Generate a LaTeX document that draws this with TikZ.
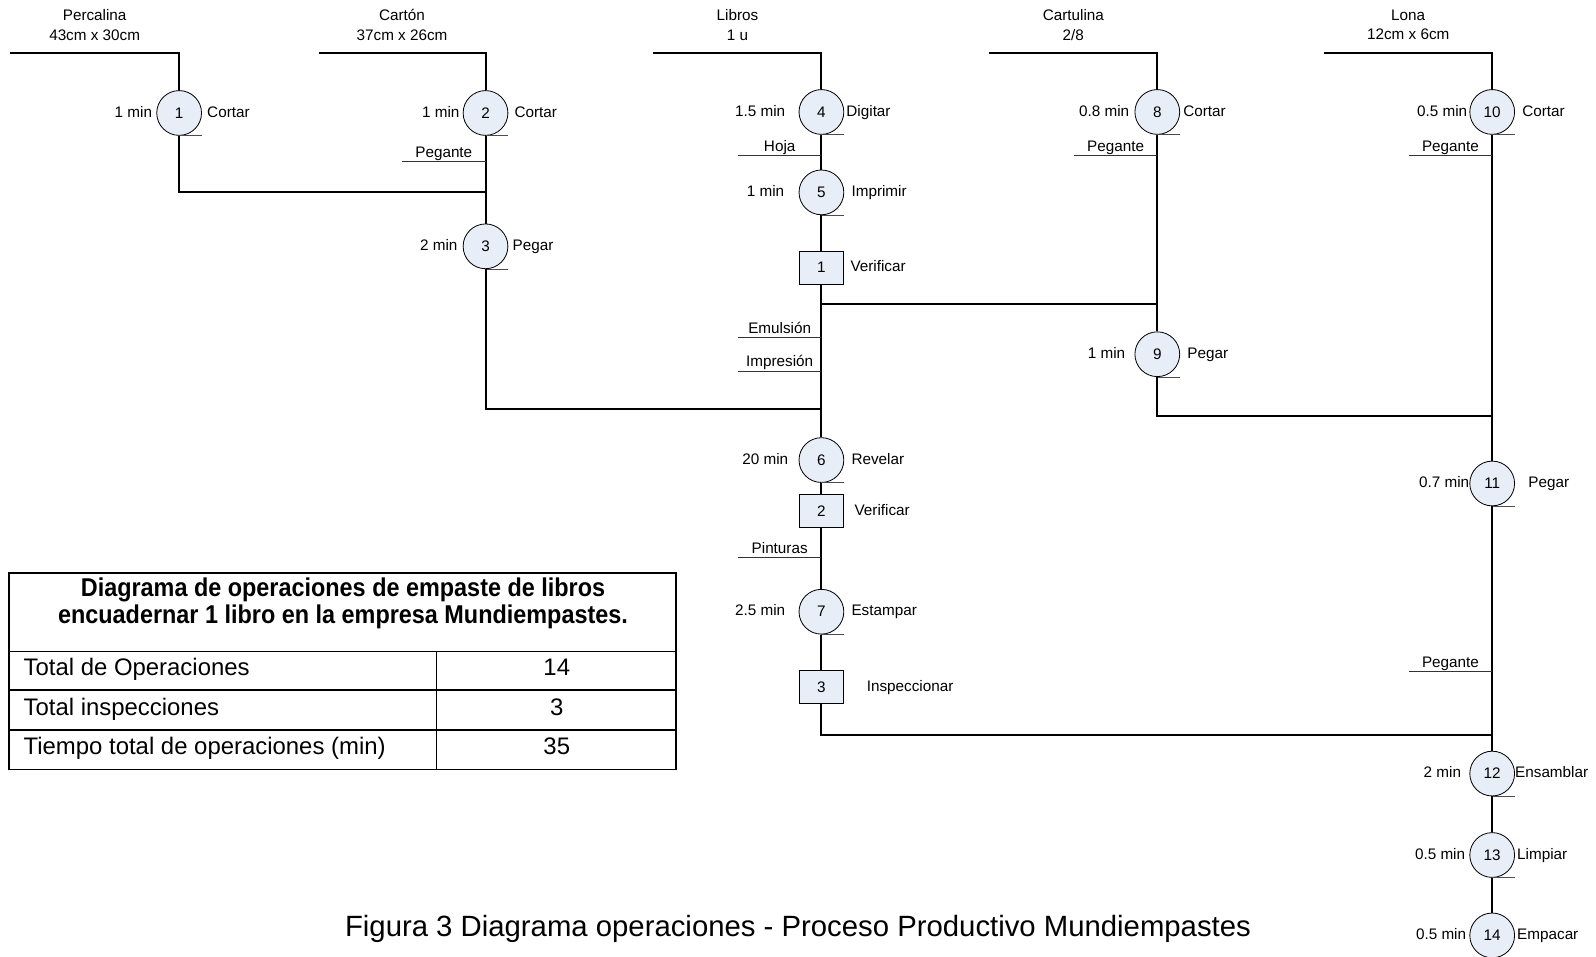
\documentclass[tikz,border=0pt]{standalone}
\usepackage{fontspec}
\usepackage{graphicx}
\setmainfont{Liberation Sans}
\usetikzlibrary{positioning}
\definecolor{opfill}{RGB}{232,238,248}

\begin{document}
\begin{tikzpicture}[x=1pt, y=-1pt,
  op/.style={circle, draw, fill=opfill, minimum size=44pt, inner sep=0pt, line width=0.8pt, font=\fontsize{15}{18}\selectfont},
  insp/.style={rectangle, draw, fill=opfill, minimum width=44pt, minimum height=32pt, inner sep=0pt, line width=0.8pt, font=\fontsize{15}{18}\selectfont},
  txt/.style={inner sep=0pt, text=black, font=\fontsize{15}{19}\selectfont},
  lbl/.style={txt, text height=11pt, text depth=3pt},
  flow/.style={line width=2pt},
  feed/.style={line width=0.9pt, black!80},
  tick/.style={line width=0.9pt, black!70},
  tab/.style={line width=1.4pt},
  cell/.style={inner sep=0pt, font=\fontsize{23.5}{28}\selectfont}]
\useasboundingbox (0,0) rectangle (1568,940);

% operaciones
\foreach \n/\x/\y/\tm/\gl/\act/\gr in {1/176/111/1 min/4pt/Cortar/5pt, 2/477/111/1 min/3pt/Cortar/6pt,
    3/477/242/2 min/5pt/Pegar/4pt, 4/807/110/1.5 min/13pt/Digitar/2pt, 5/807/189/1 min/14pt/Imprimir/7pt,
    6/807/452/20 min/10pt/Revelar/7pt, 7/807/601/2.5 min/13pt/Estampar/7pt, 8/1137/110/0.8 min/5pt/Cortar/3pt,
    9/1137/348/1 min/9pt/Pegar/7pt, 10/1466/110/0.5 min/2pt/Cortar/7pt, 11/1466/475/0.7 min/0pt/Pegar/13pt,
    12/1466/760/2 min/8pt/Ensamblar/0pt, 13/1466/840/0.5 min/4pt/Limpiar/2pt, 14/1466/919/0.5 min/3pt/Empacar/2pt} {
  \node[op] (op\n) at (\x,\y) {\n};
  \node[lbl, left=\gl of op\n] (time\n) {\tm};
  \node[lbl, right=\gr of op\n] (act\n) {\act};
  \draw[tick] (op\n.south) -- ++(22,0);
}

% inspecciones
\foreach \n/\y/\act/\gr in {1/263/Verificar/6pt, 2/502/Verificar/10pt, 3/675/Inspeccionar/22pt} {
  \node[insp] (insp\n) at (807,\y) {\n};
  \node[lbl, right=\gr of insp\n] (iact\n) {\act};
}

% materiales de entrada
\foreach \n/\l/\x/\nm/\sz in {1/10/176/Percalina/43cm x 30cm, 2/313/477/Cartón/37cm x 26cm,
    4/642/807/Libros/1 u, 8/972/1137/Cartulina/{2/8}, 10/1301/1466/Lona/12cm x 6cm} {
  \node[txt, align=center] (mat\n) at ({(\l+\x)/2},24.5) {\nm\\\sz};
  \coordinate (in\n) at (\l,52);
  \draw[flow] (in\n) -| (op\n);
}

% uniones
\coordinate (jAB) at (477,189);
\coordinate (jBC) at (807,402);
\coordinate (jCD) at (807,299);
\coordinate (jDE) at (1466,409);
\coordinate (jCE) at (1466,722);
\draw[flow] (op1) |- (jAB);
\draw[flow] (op3) |- (jBC);
\draw[flow] (jCD) -- (op8 |- jCD);
\draw[flow] (op9) |- (jDE);
\draw[flow] (insp3) |- (jCE);
\foreach \a/\b in {op2/op3, op4/op5, op5/insp1, insp1/op6, op6/insp2, insp2/op7, op7/insp3,
    op8/op9, op10/op11, op11/op12, op12/op13, op13/op14}
  \draw[flow] (\a) -- (\b);

% insumos
\foreach \x/\y/\m [count=\i] in {477/159/Pegante, 807/153/Hoja, 807/332/Emulsión, 807/365/Impresión,
    807/548/Pinturas, 1137/153/Pegante, 1466/153/Pegante, 1466/660/Pegante}
  \draw[feed] (\x,\y) -- ++(-82,0) node[midway, above=1pt, lbl] (feed\i) {\m};

% tabla resumen
\draw[tab] (9,563) rectangle (664,756);
\draw[tab] (9,640) -- (664,640) (9,678) -- (664,678) (9,717) -- (664,717) (429,640) -- (429,756);
\node[font=\bfseries\fontsize{23}{24.5}\selectfont] (tabtitle) at (337,594) {\scalebox{1}[1.1]{\begin{tabular}{@{}c@{}}Diagrama de operaciones de empaste de libros\\encuadernar 1 libro en la empresa Mundiempastes.\end{tabular}}};
\foreach \y/\lab/\val [count=\i] in {664/Total de Operaciones/14, 702.5/Total inspecciones/3, 741.5/Tiempo total de operaciones (min)/35} {
  \node[cell, anchor=base west] (row\i) at (23,\y) {\lab};
  \node[cell, anchor=base] (val\i) at (547,\y) {\val};
}

\node[font=\fontsize{28.8}{34}\selectfont] (caption) at (784,913) {Figura 3 Diagrama operaciones - Proceso Productivo Mundiempastes};
\end{tikzpicture}
\end{document}
